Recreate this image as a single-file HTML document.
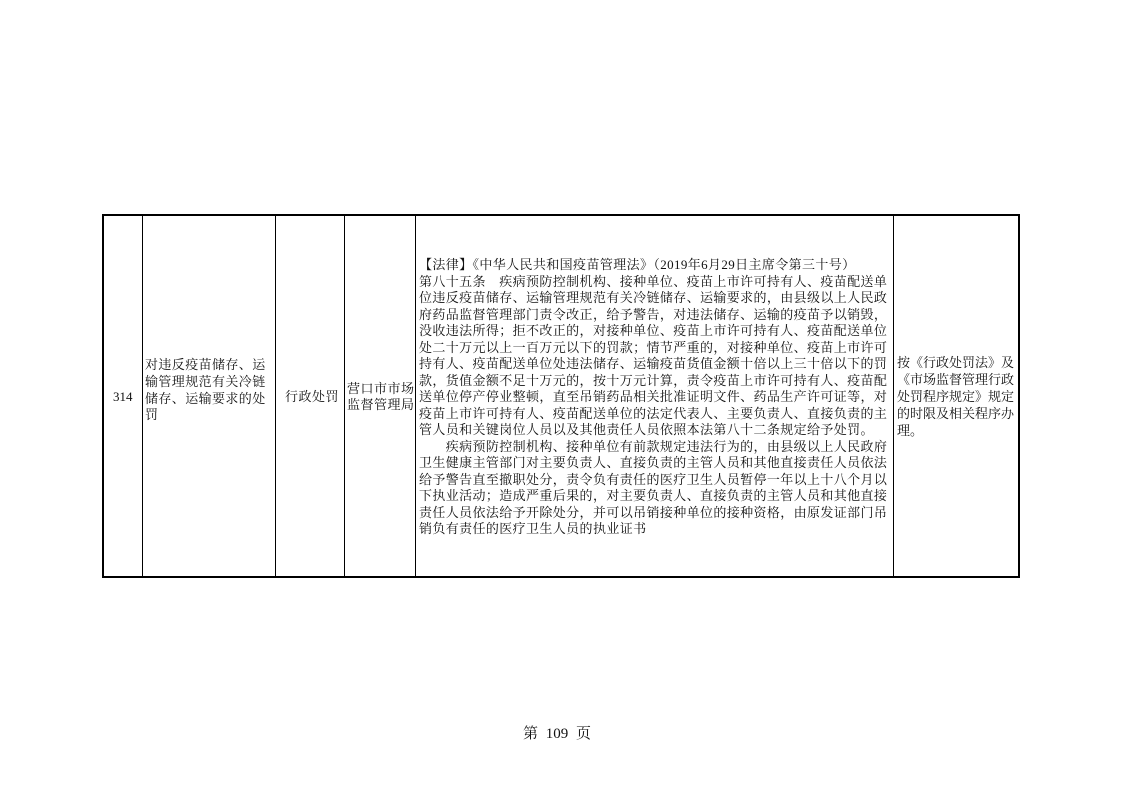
<!DOCTYPE html>
<html><head><meta charset="utf-8"><style>
body{margin:0;width:1122px;height:793px;background:#fff;position:relative;overflow:hidden;font-family:"Liberation Serif","Noto Serif CJK SC",serif;color:#111}
.l{position:absolute;white-space:nowrap;font-size:13px;line-height:16px}
.v{position:absolute;background:#000}
</style></head><body>
<div class="v" style="left:102px;top:214px;width:918px;height:2px"></div>
<div class="v" style="left:102px;top:576px;width:918px;height:2px"></div>
<div class="v" style="left:102px;top:214px;width:2px;height:364px"></div>
<div class="v" style="left:1018px;top:214px;width:2px;height:364px"></div>
<div class="v" style="left:142px;top:214px;width:1px;height:364px"></div>
<div class="v" style="left:275px;top:214px;width:1px;height:364px"></div>
<div class="v" style="left:344px;top:214px;width:1px;height:364px"></div>
<div class="v" style="left:415px;top:214px;width:1px;height:364px"></div>
<div class="v" style="left:893px;top:214px;width:1px;height:364px"></div>

<div class="l" style="left:113px;top:389px">314</div>
<div class="l" style="left:145px;top:357px;letter-spacing:0.4px">对违反疫苗储存、运</div>
<div class="l" style="left:145px;top:374px;letter-spacing:0.4px">输管理规范有关冷链</div>
<div class="l" style="left:145px;top:391px;letter-spacing:0.4px">储存、运输要求的处</div>
<div class="l" style="left:145px;top:407px;letter-spacing:0.4px">罚</div>
<div class="l" style="left:285px;top:389px;letter-spacing:0.5px">行政处罚</div>
<div class="l" style="left:347px;top:381px;letter-spacing:0.5px">营口市市场</div>
<div class="l" style="left:347px;top:397px;letter-spacing:0.5px">监督管理局</div>

<div style="position:absolute;left:419px;top:257px;letter-spacing:0.38px">
<div class="l" style="top:0">【法律】《中华人民共和国疫苗管理法》（2019年6月29日主席令第三十号）</div>
<div class="l" style="top:16.5px">第八十五条　疾病预防控制机构、接种单位、疫苗上市许可持有人、疫苗配送单</div>
<div class="l" style="top:33px">位违反疫苗储存、运输管理规范有关冷链储存、运输要求的，由县级以上人民政</div>
<div class="l" style="top:49.5px">府药品监督管理部门责令改正，给予警告，对违法储存、运输的疫苗予以销毁，</div>
<div class="l" style="top:66px">没收违法所得；拒不改正的，对接种单位、疫苗上市许可持有人、疫苗配送单位</div>
<div class="l" style="top:82.5px">处二十万元以上一百万元以下的罚款；情节严重的，对接种单位、疫苗上市许可</div>
<div class="l" style="top:99px">持有人、疫苗配送单位处违法储存、运输疫苗货值金额十倍以上三十倍以下的罚</div>
<div class="l" style="top:115.5px">款，货值金额不足十万元的，按十万元计算，责令疫苗上市许可持有人、疫苗配</div>
<div class="l" style="top:132px">送单位停产停业整顿，直至吊销药品相关批准证明文件、药品生产许可证等，对</div>
<div class="l" style="top:148.5px">疫苗上市许可持有人、疫苗配送单位的法定代表人、主要负责人、直接负责的主</div>
<div class="l" style="top:165px">管人员和关键岗位人员以及其他责任人员依照本法第八十二条规定给予处罚。</div>
<div class="l" style="top:181.5px">　　疾病预防控制机构、接种单位有前款规定违法行为的，由县级以上人民政府</div>
<div class="l" style="top:198px">卫生健康主管部门对主要负责人、直接负责的主管人员和其他直接责任人员依法</div>
<div class="l" style="top:214.5px">给予警告直至撤职处分，责令负有责任的医疗卫生人员暂停一年以上十八个月以</div>
<div class="l" style="top:231px">下执业活动；造成严重后果的，对主要负责人、直接负责的主管人员和其他直接</div>
<div class="l" style="top:247.5px">责任人员依法给予开除处分，并可以吊销接种单位的接种资格，由原发证部门吊</div>
<div class="l" style="top:264px">销负有责任的医疗卫生人员的执业证书</div>
</div>

<div style="position:absolute;left:897px;top:355px;letter-spacing:0px">
<div class="l" style="top:0">按《行政处罚法》及</div>
<div class="l" style="top:17px">《市场监督管理行政</div>
<div class="l" style="top:34px">处罚程序规定》规定</div>
<div class="l" style="top:51px">的时限及相关程序办</div>
<div class="l" style="top:68px">理。</div>
</div>

<div class="l" style="left:523px;top:725px;font-size:15px;line-height:18px;word-spacing:4px">第 109 页</div>
</body></html>
